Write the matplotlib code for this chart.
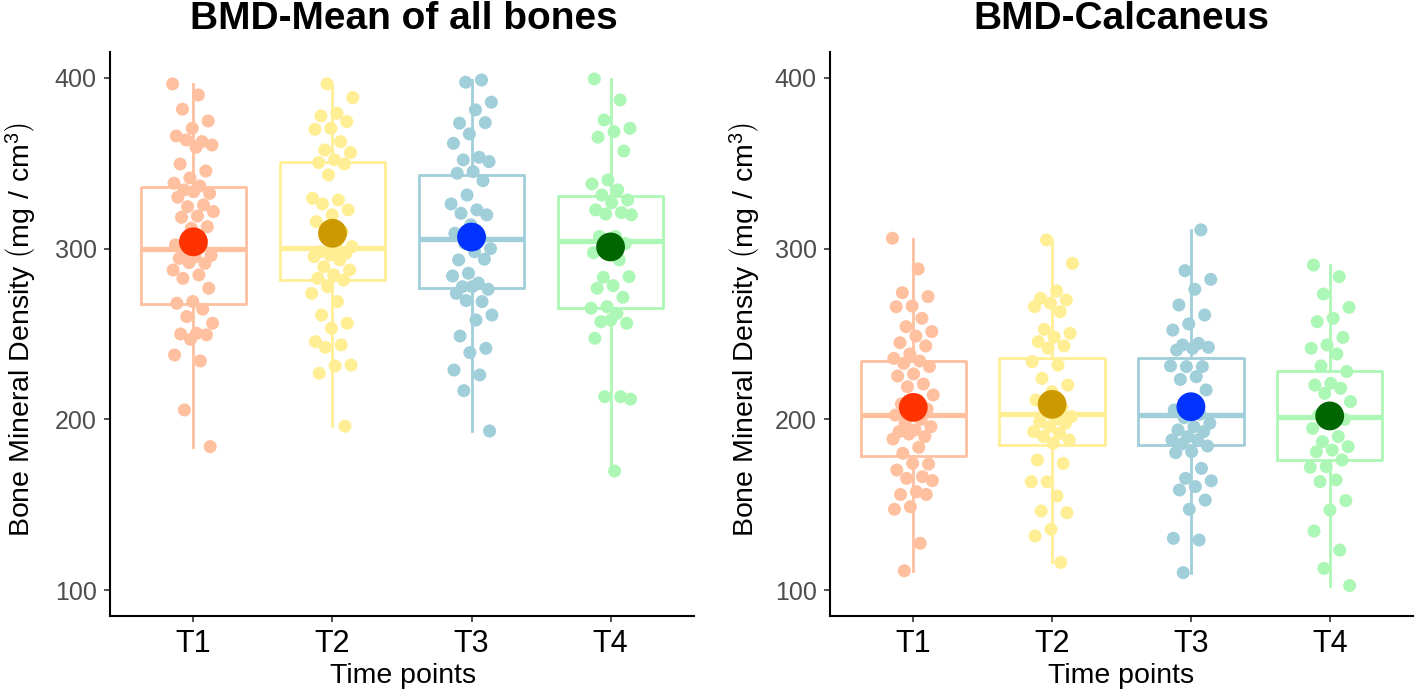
import numpy as np
import matplotlib
matplotlib.use("Agg")
import matplotlib.pyplot as plt

plt.rcParams['font.family'] = ['Liberation Sans', 'DejaVu Sans']
plt.rcParams['mathtext.fontset'] = 'custom'
plt.rcParams['mathtext.rm'] = 'Liberation Sans'

groups = ['T1', 'T2', 'T3', 'T4']
point_colors = ['#FFC09F', '#FFEE93', '#A0CED9', '#ADF7B6']
mean_colors = ['#FF3300', '#CC9900', '#0033FF', '#006600']

# --- BMD mean of all bones: points ---
allb_t1 = [396.5, 390, 381.7, 374.8, 370.5, 366, 362.7, 363.7, 360.7, 359.4, 349.6, 345.5,
           341.4, 338.3, 336.7, 334.4, 332.4, 333.4, 330.1, 325.6, 324.6, 321.7, 319.1, 318.4,
           312.9, 311.9, 302.2, 301, 298, 296, 295.3, 294.3, 291.4, 291.8, 287.5, 284.6, 282.6,
           276.8, 269, 268, 264.5, 260.2, 256.3, 250.4, 250, 249.5, 246.9, 237.7, 234.2, 205.5, 184]
allb_t2 = [396.5, 388.5, 379.3, 377.7, 374.4, 370.5, 369.9, 362.7, 357.8, 356.3, 352, 350.4,
           349.6, 343.2, 329.5, 328.5, 326.2, 322.7, 319.8, 315.8, 310, 307, 301.2, 300.2, 298.2,
           297.3, 296.3, 295.3, 293.4, 289.4, 287.5, 284.6, 282.6, 281.6, 277.7, 273.8, 269,
           261.1, 256.3, 253.4, 245.5, 243.6, 242.2, 231.8, 231.3, 227, 196]
allb_t3 = [398.8, 397.5, 385.8, 381.3, 373.5, 373.8, 367.2, 361.7, 353.5, 352, 351, 345.1,
           344.2, 339.8, 331.4, 326.2, 322.7, 320.7, 319.8, 314, 309, 306, 303.2, 300, 298.2,
           293.4, 293.8, 285.6, 284, 279.8, 277.7, 276.2, 277.7, 273.8, 269, 269.6, 261.1, 258.2,
           248.8, 241.6, 239.1, 228.9, 226, 216.8, 193.2]
allb_t4 = [399.4, 387.1, 375.4, 370.5, 368.5, 365.3, 357.2, 340.2, 337.9, 334.4, 331.4, 328.5,
           326.9, 322.7, 321.1, 320.3, 319.8, 307.1, 307.1, 303, 301, 297.6, 293.4, 283.2, 283.6,
           278.3, 276.8, 271.5, 266, 265.1, 262.1, 257.2, 256.3, 258.2, 247.5, 213.3, 213.3,
           211.8, 169.7]

# box summaries and means
allb_q1 = [267.8, 281.4, 276.8, 265.5]
allb_med = [300, 300.4, 305.5, 304.2]
allb_q3 = [336, 350.7, 343, 331]
allb_lo = [184, 196, 193.2, 169.7]
allb_hi = [396.5, 396.5, 398.8, 399.4]
allb_mean = [304, 309, 306.8, 301]

# --- BMD calcaneus ---
calc_t1 = [306.1, 288.1, 274.2, 271.9, 266.4, 266, 259.2, 254.3, 251.4, 248.8, 244.9, 243,
           238.3, 235.7, 234.2, 232.8, 230.9, 226.6, 225.4, 220.7, 219.1, 214.3, 211.3, 209,
           206, 204.5, 202.5, 200, 197.7, 195.7, 193.8, 192.8, 189.9, 191.4, 188.5, 183.6, 180.1,
           173.8, 174.2, 170.3, 166.4, 165.4, 164.1, 157.6, 156, 156, 148.8, 147.3, 127.4, 111.3]
calc_t2 = [305.1, 291.4, 275.2, 270.9, 269.9, 268, 266, 263.1, 252.7, 250.4, 248.1, 245.5,
           243, 241.6, 233.8, 231.8, 224, 220.1, 216.2, 211.3, 207, 204, 201.6, 200, 198.6,
           197.7, 195.7, 192.8, 191.8, 189.9, 187.9, 186, 176.2, 174.2, 163.5, 163.5, 155.1,
           146.3, 145.3, 135.6, 131.7, 116.2]
calc_t3 = [311, 287.1, 282, 276.2, 267, 261.1, 255.9, 252.3, 244.5, 243.6, 242.2, 241.6,
           240.6, 230.9, 230.9, 231.3, 225, 223.4, 217.2, 208, 205.5, 203, 201, 197.7, 195.7,
           193.8, 192.8, 189.8, 187.9, 187.9, 185.6, 184.4, 181.1, 180.5, 171.3, 165.4, 164,
           160.6, 158.6, 152.7, 147.3, 130.3, 129.3, 110.2]
calc_t4 = [290.4, 283.6, 273.4, 265.6, 259.2, 257.2, 248, 243.6, 241.6, 238.3, 231.3, 228,
           221.1, 220.1, 218.2, 215.2, 210.4, 205.5, 202.5, 200, 198.6, 194.7, 189.9, 186.9,
           184, 182, 181, 176.2, 172.3, 171.9, 164.5, 163.5, 152.4, 146.9, 134.6, 123.4, 112.7,
           102.6]

calc_q1 = [178.5, 185, 185, 176.2]
calc_med = [202.5, 203.1, 202.5, 201.2]
calc_q3 = [234.4, 236, 235.8, 228.3]
calc_lo = [111.3, 116.2, 110.2, 102.6]
calc_hi = [305.5, 304.8, 311, 290.4]
calc_mean = [207, 208.8, 207.4, 202]

allb_points = [allb_t1, allb_t2, allb_t3, allb_t4]
calc_points = [calc_t1, calc_t2, calc_t3, calc_t4]


def spread(n, k):
    # evenly scattered horizontal offsets (like geom_jitter, but reproducible)
    return ((np.arange(n) * 0.6180339887 + k * 0.37) % 1.0 - 0.5) * 0.3


def draw_panel(ax, points, q1, med, q3, lo, hi, means):
    for i in range(4):
        stats = [dict(q1=q1[i], med=med[i], q3=q3[i], whislo=lo[i], whishi=hi[i])]
        c = point_colors[i]
        ax.bxp(stats, positions=[i + 1], widths=0.76, showfliers=False, showcaps=False,
               boxprops=dict(color=c, lw=2.0), whiskerprops=dict(color=c, lw=2.0),
               medianprops=dict(color=c, lw=3.8, solid_capstyle='butt'),
               manage_ticks=False, zorder=1)
        y = np.array(points[i])
        ax.scatter(i + 1 + spread(len(y), i), y, s=88, color=c, edgecolors='none', zorder=2)
        ax.scatter([i + 1], [means[i]], s=430, color=mean_colors[i], edgecolors='none', zorder=3)

    ax.set_xlim(0.4, 4.6)
    ax.set_ylim(84.8, 415.2)
    ax.set_xticks(range(1, 5))
    ax.set_xticklabels(groups)
    ax.set_yticks([100, 200, 300, 400])
    for side in ['top', 'right']:
        ax.spines[side].set_visible(False)
    for side in ['left', 'bottom']:
        ax.spines[side].set_linewidth(1.5)
        ax.spines[side].set_color('black')
    ax.tick_params(axis='y', labelsize=18, labelcolor='#4D4D4D', color='#333333',
                   length=4.5, width=1.2, pad=5)
    ax.tick_params(axis='x', labelsize=22, labelcolor='black', color='#333333',
                   length=4.5, width=1.2, pad=5)


W, H = 1415, 694
fig = plt.figure(figsize=(W / 100, H / 100), dpi=100)
ax1 = fig.add_axes([110 / W, 1 - 616 / H, 584 / W, 564 / H])
ax2 = fig.add_axes([830 / W, 1 - 616 / H, 583 / W, 564 / H])

draw_panel(ax1, allb_points, allb_q1, allb_med, allb_q3, allb_lo, allb_hi, allb_mean)
draw_panel(ax2, calc_points, calc_q1, calc_med, calc_q3, calc_lo, calc_hi, calc_mean)

ylab = r'Bone Mineral Density $\left(\mathrm{mg\ /\ cm^{3}}\right)$'
fig.text(404 / W, 1 - 29 / H, 'BMD-Mean of all bones', ha='center', va='baseline',
         fontsize=28, fontweight='bold')
fig.text(1121 / W, 1 - 29 / H, 'BMD-Calcaneus', ha='center', va='baseline',
         fontsize=28, fontweight='bold')
fig.text(403 / W, 1 - 683 / H, 'Time points', ha='center', va='baseline', fontsize=20.5)
fig.text(1121 / W, 1 - 683 / H, 'Time points', ha='center', va='baseline', fontsize=20.5)
fig.text(21 / W, 1 - 330 / H, ylab, ha='center', va='center', rotation=90, fontsize=20.5)
fig.text(744 / W, 1 - 330 / H, ylab, ha='center', va='center', rotation=90, fontsize=20.5)

fig.savefig('out.png', dpi=100)
